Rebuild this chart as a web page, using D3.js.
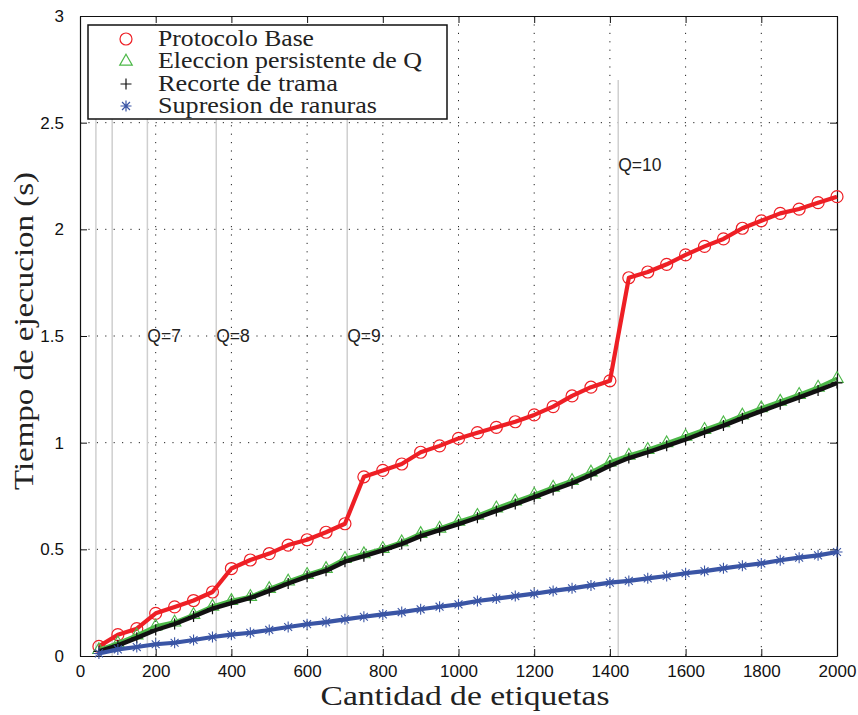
<!DOCTYPE html>
<html>
<head>
<meta charset="utf-8">
<script src="https://cdn.jsdelivr.net/npm/d3@7"></script>
<style>
  html, body { margin: 0; padding: 0; background: #fff; }
  svg { display: block; }
</style>
</head>
<body>
<svg id="chart" width="858" height="715"></svg>
<script>
// ---- data ----
const cantidad = [50,100,150,200,250,300,350,400,450,500,550,600,650,700,750,800,850,900,950,1000,
                  1050,1100,1150,1200,1250,1300,1350,1400,1450,1500,1550,1600,1650,1700,1750,1800,1850,1900,1950,2000];
const protocoloBase = [0.045,0.10,0.128,0.20,0.23,0.26,0.30,0.41,0.45,0.48,
                       0.52,0.545,0.58,0.62,0.84,0.87,0.90,0.955,0.985,1.02,
                       1.047,1.072,1.098,1.13,1.169,1.219,1.26,1.29,1.773,1.80,
                       1.836,1.88,1.92,1.955,2.005,2.04,2.075,2.095,2.125,2.153];
const eleccionQ = [0.031,0.062,0.099,0.141,0.16,0.195,0.234,0.261,0.28,0.317,
                   0.352,0.383,0.411,0.458,0.48,0.505,0.536,0.575,0.60,0.632,
                   0.66,0.695,0.727,0.758,0.792,0.824,0.863,0.91,0.942,0.969,
                   1.0,1.031,1.063,1.094,1.13,1.164,1.195,1.227,1.261,1.302];
const recorteTrama = [0.022,0.05,0.085,0.122,0.15,0.185,0.222,0.248,0.272,0.305,
                      0.34,0.372,0.40,0.442,0.468,0.495,0.525,0.562,0.59,0.618,
                      0.648,0.68,0.712,0.745,0.778,0.81,0.848,0.892,0.928,0.955,
                      0.985,1.015,1.048,1.08,1.115,1.148,1.18,1.212,1.245,1.28];
const supresionRanuras = [0.012,0.031,0.042,0.055,0.062,0.075,0.089,0.10,0.109,0.122,
                          0.136,0.149,0.159,0.172,0.184,0.195,0.206,0.219,0.231,0.242,
                          0.258,0.269,0.281,0.292,0.305,0.317,0.331,0.344,0.352,0.364,
                          0.375,0.388,0.398,0.411,0.423,0.434,0.449,0.461,0.472,0.4875];
const seriesNames = ["Protocolo Base", "Eleccion persistente de Q", "Recorte de trama", "Supresion de ranuras"];

const qLinePositions = [42, 85, 178, 360, 706, 1422];
const qLineTop = 2.7;
const qLabels = ["Q=7", "Q=8", "Q=9", "Q=10"];
const qLabelX = [178, 360, 706, 1422];
const qLabelY = [1.5, 1.5, 1.5, 2.3];

const xTicks = [0,200,400,600,800,1000,1200,1400,1600,1800,2000];
const yTicks = [0,0.5,1,1.5,2,2.5,3];
const yTickLabels = ["0","0.5","1","1.5","2","2.5","3"];
const xTitle = "Cantidad de etiquetas";
const yTitle = "Tiempo de ejecucion (s)";

// ---- layout ----
const L = 80, R = 837, T = 16, B = 656;
const svg = d3.select("#chart");
const x = d3.scaleLinear().domain([0, 2000]).range([L, R]);
const y = d3.scaleLinear().domain([0, 3]).range([B, T]);

const sansFont = "'Liberation Sans', Arial, Helvetica, sans-serif";
const serifFont = "'Liberation Serif', 'Times New Roman', serif";

// grid
const grid = svg.append("g");
grid.selectAll("line.gx").data(xTicks.slice(1, -1)).join("line")
  .attr("x1", d => x(d)).attr("x2", d => x(d)).attr("y1", T).attr("y2", B)
  .attr("stroke", "#222").attr("stroke-width", 1).attr("stroke-dasharray", "1.2,7.2");
grid.selectAll("line.gy").data(yTicks.slice(1, -1)).join("line")
  .attr("x1", L).attr("x2", R).attr("y1", d => y(d)).attr("y2", d => y(d))
  .attr("stroke", "#222").attr("stroke-width", 1).attr("stroke-dasharray", "1.2,7.2");

// Q threshold lines
svg.append("g").selectAll("line").data(qLinePositions).join("line")
  .attr("x1", d => x(d)).attr("x2", d => x(d))
  .attr("y1", y(0)).attr("y2", y(qLineTop))
  .attr("stroke", "#cfcfcf").attr("stroke-width", 1.5);

svg.append("g").selectAll("text").data(qLabels).join("text")
  .attr("x", (d, i) => x(qLabelX[i]))
  .attr("y", (d, i) => y(qLabelY[i]) + 6)
  .attr("font-family", sansFont).attr("font-size", 17.5)
  .attr("fill", "#222")
  .text(d => d);

// axes (box with inward ticks)
const tickLen = 7;
const axG = svg.append("g");
axG.append("g").attr("transform", `translate(0,${B})`)
  .call(d3.axisBottom(x).tickValues(xTicks).tickSizeInner(-tickLen).tickSizeOuter(0).tickPadding(9).tickFormat(d3.format("d")));
axG.append("g").attr("transform", `translate(0,${T})`)
  .call(d3.axisTop(x).tickValues(xTicks).tickSizeInner(-tickLen).tickSizeOuter(0).tickFormat(""));
axG.append("g").attr("transform", `translate(${L},0)`)
  .call(d3.axisLeft(y).tickValues(yTicks).tickSizeInner(-tickLen).tickSizeOuter(0).tickPadding(16)
        .tickFormat((d, i) => yTickLabels[i]));
axG.append("g").attr("transform", `translate(${R},0)`)
  .call(d3.axisRight(y).tickValues(yTicks).tickSizeInner(-tickLen).tickSizeOuter(0).tickFormat(""));
axG.selectAll(".domain").attr("stroke", "#111").attr("stroke-width", 1.2);
axG.selectAll(".tick line").attr("stroke", "#111").attr("stroke-width", 1);
axG.selectAll(".tick text").attr("font-family", sansFont).attr("font-size", 17).attr("fill", "#111");

// series
const line = d3.line().x((d, i) => x(cantidad[i])).y(d => y(d));

const red = "#ee1f25", green = "#4cb848", black = "#111111", blue = "#3a55a5";

function plusType(s) {
  return { draw(ctx) { ctx.moveTo(-s, 0); ctx.lineTo(s, 0); ctx.moveTo(0, -s); ctx.lineTo(0, s); } };
}
function starType(s) {
  const d = s * 0.72;
  return { draw(ctx) {
    ctx.moveTo(-s, 0); ctx.lineTo(s, 0); ctx.moveTo(0, -s); ctx.lineTo(0, s);
    ctx.moveTo(-d, -d); ctx.lineTo(d, d); ctx.moveTo(-d, d); ctx.lineTo(d, -d);
  } };
}
function triType(s) {
  const h = s * Math.sqrt(3) / 2;
  return { draw(ctx) { ctx.moveTo(0, -h * 0.62); ctx.lineTo(s / 2, h * 0.38); ctx.lineTo(-s / 2, h * 0.38); ctx.closePath(); } };
}
const circleSym = d3.symbol(d3.symbolCircle, Math.PI * 6 * 6)();
const triSym = d3.symbol(triType(12.5))();
const plusSym = d3.symbol(plusType(5.5))();
const starSym = d3.symbol(starType(5.5))();

const seriesDefs = [
  { vals: protocoloBase, color: red, width: 4.2, sym: circleSym, mw: 1.2 },
  { vals: eleccionQ, color: green, width: 3.2, sym: triSym, mw: 1.1 },
  { vals: recorteTrama, color: black, width: 4.4, sym: plusSym, mw: 1.2 },
  { vals: supresionRanuras, color: blue, width: 4.2, sym: starSym, mw: 1.1 }
];

const gS = svg.append("g");
seriesDefs.forEach(s => {
  const g = gS.append("g");
  g.append("path").datum(s.vals).attr("d", line)
    .attr("fill", "none").attr("stroke", s.color).attr("stroke-width", s.width)
    .attr("stroke-linejoin", "round");
  g.selectAll("path.m").data(s.vals).join("path").attr("class", "m")
    .attr("transform", (d, i) => `translate(${x(cantidad[i])},${y(d)})`)
    .attr("d", s.sym)
    .attr("fill", "none").attr("stroke", s.color).attr("stroke-width", s.mw);
});

// legend
const leg = svg.append("g");
leg.append("rect").attr("x", 88).attr("y", 25).attr("width", 359).attr("height", 94)
  .attr("fill", "#fff").attr("stroke", "#111").attr("stroke-width", 1.5);
const legRows = [39, 61, 84, 106];
const legBase = [45.5, 68, 90.5, 113];
const legWidths = [156, 264, 180, 219];
const legColors = [red, green, black, blue];
const legSyms = [circleSym, triSym, plusSym, starSym];
seriesNames.forEach((n, i) => {
  leg.append("path").attr("d", legSyms[i])
    .attr("transform", `translate(126,${legRows[i]})`)
    .attr("fill", "none").attr("stroke", legColors[i]).attr("stroke-width", 1.2);
  leg.append("text").attr("x", 158).attr("y", legBase[i])
    .attr("font-family", serifFont).attr("font-size", 22.5).attr("fill", "#222")
    .attr("textLength", legWidths[i]).attr("lengthAdjust", "spacingAndGlyphs")
    .text(n);
});

// axis titles
svg.append("text").attr("x", 465).attr("y", 705).attr("text-anchor", "middle")
  .attr("font-family", serifFont).attr("font-size", 27).attr("fill", "#222")
  .attr("textLength", 289).attr("lengthAdjust", "spacingAndGlyphs")
  .text(xTitle);
svg.append("text").attr("transform", "translate(33,331) rotate(-90)").attr("text-anchor", "middle")
  .attr("font-family", serifFont).attr("font-size", 27).attr("fill", "#222")
  .attr("textLength", 318).attr("lengthAdjust", "spacingAndGlyphs")
  .text(yTitle);
</script>
</body>
</html>
